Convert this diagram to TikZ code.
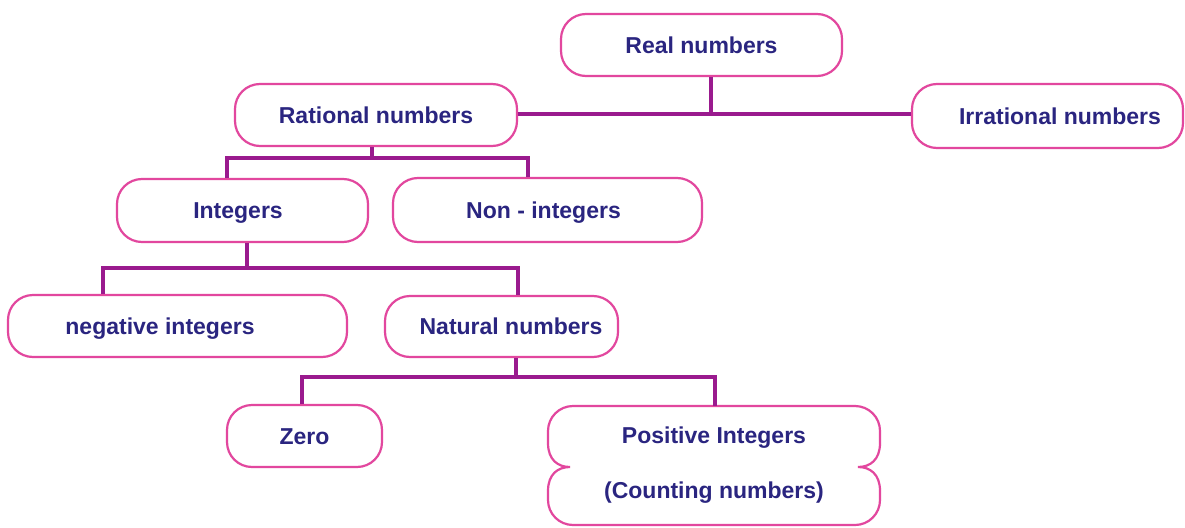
\documentclass[tikz,border=0pt]{standalone}
\usepackage{fontspec}
\setmainfont{Liberation Sans}
\definecolor{boxpink}{HTML}{E2479E}
\definecolor{linepurple}{HTML}{9A1A8E}
\definecolor{textnavy}{HTML}{2A2580}
\begin{document}
\begin{tikzpicture}[x=1pt,y=-1pt,
  box/.style={draw=boxpink, line width=2.2pt, rounded corners=25pt, fill=white,
    font=\fontsize{23}{27}\selectfont\bfseries, text=textnavy,
    text height=16.5pt, text depth=0pt, inner sep=0pt},
  conn/.style={draw=linepurple, line width=4pt}]
\useasboundingbox[fill=white] (0,0) rectangle (1185,527);

% nodes
\node[box, minimum width=281pt, minimum height=62pt] (real) at (701.5,45) {Real numbers};
\node[box, minimum width=282pt, minimum height=62pt] (rational) at (376,115) {Rational numbers};
\node[box, minimum width=271pt, minimum height=64pt] (irrational) at (1047.5,116) {\hspace*{25pt}Irrational numbers};
\node[box, minimum width=251pt, minimum height=63pt] (integers) at (242.5,210.5) {\hspace*{-9pt}Integers};
\node[box, minimum width=309pt, minimum height=64pt] (nonint) at (547.5,210) {\hspace*{-8pt}Non - integers};
\node[box, minimum width=339pt, minimum height=62pt] (negative) at (177.5,326) {\hspace*{-35pt}negative integers};
\node[box, minimum width=233pt, minimum height=61pt] (natural) at (501.5,326.5) {\hspace*{19pt}Natural numbers};
\node[box, minimum width=155pt, minimum height=62pt] (zero) at (304.5,436) {Zero};

% positive integers: custom notched outline
\draw[draw=boxpink, line width=2.2pt, fill=white]
  (573,406) -- (855,406) arc[start angle=90, end angle=0, radius=25pt]
  -- (880,443) .. controls (880,460) and (870,467) .. (858,467)
  .. controls (870,467) and (880,474) .. (880,491)
  -- (880,500) arc[start angle=0, end angle=-90, radius=25pt]
  -- (573,525) arc[start angle=270, end angle=180, radius=25pt]
  -- (548,491) .. controls (548,474) and (558,467) .. (570,467)
  .. controls (558,467) and (548,460) .. (548,443)
  -- (548,431) arc[start angle=180, end angle=90, radius=25pt] -- cycle;
\node[inner sep=0pt, minimum width=332pt, minimum height=119pt,
  font=\fontsize{23}{55}\selectfont\bfseries, text=textnavy, align=center]
  (positive) at (714,465.5) {Positive Integers\\(Counting numbers)};

% junction coordinates
\coordinate (j1) at (711,114);
\coordinate (j2) at (372,158);
\coordinate (j2a) at (227,158);
\coordinate (j2b) at (528,158);
\coordinate (j3) at (247,268);
\coordinate (j3a) at (103,268);
\coordinate (j3b) at (518,268);
\coordinate (j4) at (516,377);
\coordinate (j4a) at (302,377);
\coordinate (j4b) at (715,377);

% connectors
\draw[conn] (real.south -| j1) -- (j1);
\draw[conn] (rational.east |- j1) -- (irrational.west |- j1);
\draw[conn] (rational.south -| j2) -- (j2);
\draw[conn] (integers.north -| j2a) -- (j2a) -- (j2b) -- (nonint.north -| j2b);
\draw[conn] (integers.south -| j3) -- (j3);
\draw[conn] (negative.north -| j3a) -- (j3a) -- (j3b) -- (natural.north -| j3b);
\draw[conn] (natural.south -| j4) -- (j4);
\draw[conn] (zero.north -| j4a) -- (j4a) -- (j4b) -- (positive.north -| j4b);
\end{tikzpicture}
\end{document}
